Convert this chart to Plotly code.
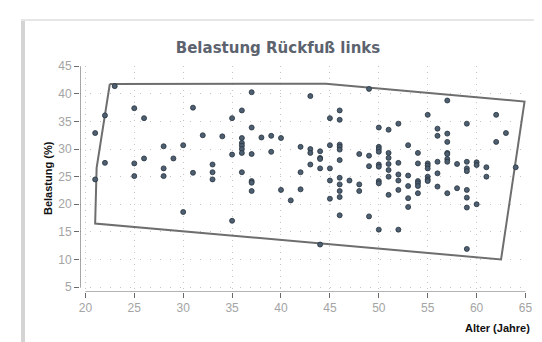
import plotly.graph_objects as go

ages = (
    [21, 21, 22, 22, 23, 25, 25, 25, 26, 26, 28, 28, 28, 29, 30, 30, 31, 31, 32,
     33, 33, 33, 34, 35, 35, 35]
    + [36] * 7 + [37] * 6 + [38] + [39] * 2 + [40] * 2 + [41] + [42] * 3
    + [43] * 4 + [44] * 5 + [45] * 5 + [46] * 11 + [47] + [48] * 3 + [49] * 4
    + [50] * 9 + [51] * 7 + [52] * 6 + [53] * 5 + [54] * 6 + [55] * 7
    + [56] * 5 + [57] * 8 + [58] * 2 + [59] * 8 + [60] * 3 + [61] * 2
    + [62] * 2 + [63] + [64]
)
load = [
    32.9, 24.5, 36.1, 27.5, 41.4, 37.4, 27.4, 25.1, 35.6, 28.3, 30.5, 26.5, 25.1,
    28.3, 30.7, 18.6, 37.5, 25.7, 32.5, 27.2, 25.8, 24.5, 32.3, 35.6, 29.0, 17.0,
    # 36
    37.0, 32.0, 31.1, 30.6, 30.0, 29.3, 25.8,
    # 37
    40.3, 33.9, 29.1, 24.2, 23.9, 22.4,
    # 38, 39, 40, 41
    32.1, 32.4, 29.5, 32.0, 22.6, 20.7,
    # 42
    30.4, 25.8, 22.7,
    # 43
    39.6, 30.0, 29.3, 27.2,
    # 44
    29.6, 28.4, 28.2, 26.5, 12.7,
    # 45
    35.6, 30.7, 26.5, 24.3, 21.0,
    # 46
    37.0, 35.3, 30.8, 30.4, 29.9, 28.0, 24.8, 23.6, 22.4, 21.3, 18.0,
    # 47
    24.3,
    # 48
    29.1, 23.6, 22.4,
    # 49
    40.9, 28.8, 26.9, 17.8,
    # 50
    33.9, 30.4, 30.0, 29.5, 27.2, 26.8, 24.2, 23.8, 15.4,
    # 51
    33.5, 29.3, 28.4, 27.3, 26.2, 25.0, 21.7,
    # 52
    34.6, 27.5, 25.4, 24.3, 22.6, 15.4,
    # 53
    30.7, 25.2, 23.3, 21.1, 19.5,
    # 54
    29.3, 27.4, 24.2, 23.8, 23.3, 22.0,
    # 55
    36.2, 27.4, 27.0, 26.5, 25.0, 24.5, 24.2,
    # 56
    33.7, 32.4, 27.7, 25.6, 23.2,
    # 57
    38.8, 32.8, 31.3, 29.3, 29.1, 28.2, 27.7, 22.0,
    # 58
    27.3, 22.9,
    # 59
    34.6, 27.7, 26.5, 26.0, 22.6, 21.2, 19.4, 11.9,
    # 60
    27.6, 27.1, 20.0,
    # 61
    26.7, 25.0,
    # 62
    36.2, 31.3,
    # 63, 64
    32.9, 26.7,
]

# Enclosing region (polygon vertices)
hull_age = [22.5, 44.6, 64.9, 62.5, 21.0, 21.15, 22.5]
hull_load = [41.8, 41.85, 38.6, 10.0, 16.5, 26.6, 41.8]

x_ticks = [20, 25, 30, 35, 40, 45, 50, 55, 60, 65]
y_ticks = [5, 10, 15, 20, 25, 30, 35, 40, 45]
x_range = [19.45, 65.05]
y_range = [4.1, 45.05]

title_text = "Belastung Rückfuß links"
x_title = "Alter (Jahre)"
y_title = "Belastung (%)"

fig = go.Figure()
fig.add_trace(go.Scatter(
    x=hull_age, y=hull_load, mode="lines",
    line=dict(color="#6e6e6e", width=2), hoverinfo="skip", showlegend=False,
))
fig.add_trace(go.Scatter(
    x=ages, y=load, mode="markers",
    marker=dict(size=5, color="#4d5f70", line=dict(color="#27323d", width=0.8)),
    showlegend=False,
))

axis_color = "#6a6a6a"
axis_common = dict(
    showline=False,
    ticks="outside", ticklen=5, tickcolor=axis_color, tickwidth=1,
    tickfont=dict(family="Liberation Sans, Arial, sans-serif", size=12, color="#a4a4a4"),
    showgrid=True, gridcolor="#c4c4c4", gridwidth=1, zeroline=False,
)

fig.update_xaxes(range=x_range, tickvals=x_ticks, griddash="1px,5px", **axis_common)
fig.update_yaxes(range=y_range, tickvals=y_ticks, griddash="1px,9px", **axis_common)

fig.update_layout(
    width=542, height=342,
    margin=dict(l=72, r=24, t=58, b=58),
    paper_bgcolor="white", plot_bgcolor="white",
    title=dict(
        text=f"<b>{title_text}</b>", x=270 / 542, xanchor="center",
        y=1 - 40 / 342, yanchor="middle", xref="container",
        font=dict(family="DejaVu Sans, Verdana, sans-serif", size=15, color="#5c636e"),
    ),
    annotations=[
        dict(text=f"<b>{y_title}</b>", xref="paper", yref="paper",
             x=(40 - 72) / 446, y=(284 - 170) / 226, textangle=-90,
             showarrow=False, xanchor="center", yanchor="middle",
             font=dict(family="Liberation Sans, Arial, sans-serif", size=11, color="#111111")),
        dict(text=f"<b>{x_title}</b>", xref="paper", yref="paper",
             x=(524 - 72) / 446, y=(284 - 320) / 226,
             showarrow=False, xanchor="right", yanchor="middle",
             font=dict(family="Liberation Sans, Arial, sans-serif", size=11, color="#111111")),
    ],
    shapes=[
        # detached axis lines spanning only the tick range
        dict(type="line", xref="x", yref="y",
             x0=x_ticks[0], x1=x_ticks[-1], y0=y_range[0], y1=y_range[0],
             line=dict(color=axis_color, width=1.2)),
        dict(type="line", xref="x", yref="y",
             x0=x_range[0], x1=x_range[0], y0=y_ticks[0], y1=y_ticks[-1],
             line=dict(color=axis_color, width=1.2)),
        # panel frame with a soft shadow on the top-left
        dict(type="line", xref="paper", yref="paper",
             x0=(15 - 72) / 446, x1=(15 - 72) / 446, y0=(284 - 13) / 226, y1=-0.3,
             line=dict(color="#d4d4d4", width=4), layer="below"),
        dict(type="line", xref="paper", yref="paper",
             x0=(13 - 72) / 446, x1=1.1, y0=(284 - 12) / 226, y1=(284 - 12) / 226,
             line=dict(color="#e6e6e6", width=2), layer="below"),
    ],
)

fig.write_html("out.html")
